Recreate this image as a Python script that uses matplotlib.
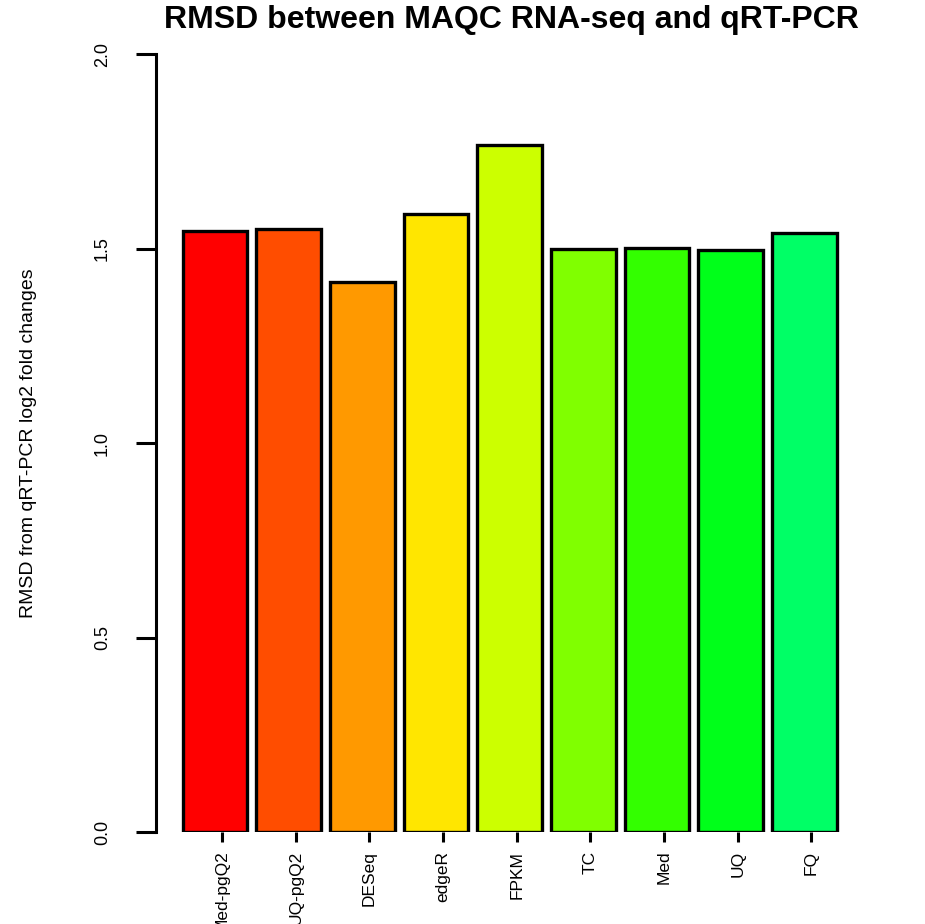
import matplotlib
matplotlib.use("Agg")
import matplotlib.pyplot as plt
import numpy as np

plt.rcParams['font.family'] = ['Liberation Sans', 'DejaVu Sans']

# data
methods = ["Med-pgQ2", "UQ-pgQ2", "DESeq", "edgeR", "FPKM", "TC", "Med", "UQ", "FQ"]
rmsd = [1.546, 1.549, 1.415, 1.589, 1.765, 1.498, 1.501, 1.495, 1.541]
colors = ["#FF0000", "#FF4D00", "#FF9900", "#FFE600", "#CCFF00",
          "#80FF00", "#33FF00", "#00FF1A", "#00FF66"]
yticks = [0.0, 0.5, 1.0, 1.5, 2.0]

fig = plt.figure(figsize=(9.25, 9.24), dpi=100)
# axes placed so that y=0 / y=2 land where the reference has them
ax = fig.add_axes([156 / 925, 92 / 924, 704 / 925, 778 / 924])

x = np.arange(len(methods))
# in the reference the labels sit a little right of the bar centres
ax.bar(x - 0.095, rmsd, width=0.88, color=colors, edgecolor="black",
       linewidth=2.4)

ax.set_xlim(-0.897, 8.66)
ax.set_ylim(0, 2)

# R-style axes: only the left axis line, spanning the tick range
for s in ["top", "right", "bottom"]:
    ax.spines[s].set_visible(False)
ax.spines["left"].set_bounds(0, 2)
ax.spines["left"].set_linewidth(2.2)

ax.set_yticks(yticks)
ax.set_yticklabels(["%.1f" % v for v in yticks], rotation=90, va="center",
                   fontsize=13)
ax.tick_params(axis="y", length=14.4, width=2.2, pad=18)

ax.set_xticks(x)
ax.set_xticklabels(methods, rotation=90, fontsize=12.5)
ax.tick_params(axis="x", length=7.5, width=2.2, pad=6)

fig.text(511 / 925, 1 - 20 / 924, "RMSD between MAQC RNA-seq and qRT-PCR",
         ha="center", va="center", fontsize=23, fontweight="bold")
fig.text(29 / 925, 1 - 443 / 924, "RMSD from qRT-PCR log2 fold changes",
         rotation=90, ha="center", va="center", fontsize=14)

fig.savefig("out.png", dpi=100)
